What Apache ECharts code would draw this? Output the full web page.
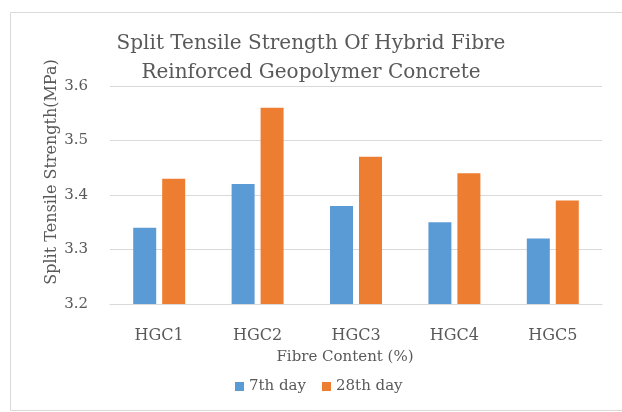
<!DOCTYPE html>
<html>
<head>
<meta charset="utf-8">
<script src="https://cdn.jsdelivr.net/npm/echarts@6/dist/echarts.min.js"></script>
<style>
html,body{margin:0;padding:0;background:#fff;}
#chart{width:622px;height:412px;}
</style>
</head>
<body>
<div id="chart"></div>
<script>
var categories = ['HGC1', 'HGC2', 'HGC3', 'HGC4', 'HGC5'];
var day7 = [3.34, 3.42, 3.38, 3.35, 3.32];
var day28 = [3.43, 3.56, 3.47, 3.44, 3.39];
var seriesNames = ['7th day', '28th day'];
var titleText = 'Split Tensile Strength Of Hybrid Fibre\nReinforced Geopolymer Concrete';

var FONT = 'DejaVu Serif';
var TXT = '#595959';
var chart = echarts.init(document.getElementById('chart'));
chart.setOption({
  animation: false,
  backgroundColor: '#fff',
  graphic: [{
    type: 'rect', left: 8, top: 10,
    shape: { width: 613, height: 398 },
    style: { fill: 'none', stroke: '#d9d9d9', lineWidth: 1 }
  }],
  title: {
    text: titleText,
    left: 'center', top: 24, padding: [5, 5, 5, 15],
    textStyle: { fontFamily: FONT, fontSize: 20, fontWeight: 'normal', color: TXT, lineHeight: 29 }
  },
  legend: {
    data: seriesNames,
    bottom: 13, left: 230,
    itemWidth: 9, itemHeight: 9, itemGap: 16,
    icon: 'rect',
    textStyle: { fontFamily: FONT, fontSize: 15, color: TXT }
  },
  grid: { left: 110, right: 20, top: 86, bottom: 108, containLabel: false },
  xAxis: {
    type: 'category', data: categories,
    name: 'Fibre Content (%)', nameLocation: 'middle', nameGap: 46,
    nameMoveOverlap: false,
    nameTextStyle: { fontFamily: FONT, fontSize: 15, color: TXT, padding: [0, 22, 0, 0] },
    axisLine: { lineStyle: { color: '#d9d9d9' } },
    axisTick: { show: false },
    axisLabel: { fontFamily: FONT, fontSize: 16, color: TXT, margin: 24 }
  },
  yAxis: {
    type: 'value', min: 3.2, max: 3.6, interval: 0.1,
    name: 'Split Tensile Strength(MPa)', nameLocation: 'middle', nameGap: 50,
    nameMoveOverlap: false,
    nameTextStyle: { fontFamily: FONT, fontSize: 16, color: TXT, padding: [0, 0, 0, 46] },
    axisLine: { show: false }, axisTick: { show: false },
    splitLine: { lineStyle: { color: '#d9d9d9' } },
    axisLabel: { fontFamily: FONT, fontSize: 15, color: TXT, margin: 22,
      formatter: function (v) { return v.toFixed(1); } }
  },
  series: [
    { name: seriesNames[0], type: 'bar', data: day7, barWidth: 23, barGap: '26%', itemStyle: { color: '#5B9BD5' } },
    { name: seriesNames[1], type: 'bar', data: day28, barWidth: 23, barGap: '26%', itemStyle: { color: '#ED7D31' } }
  ]
});
</script>
</body>
</html>
